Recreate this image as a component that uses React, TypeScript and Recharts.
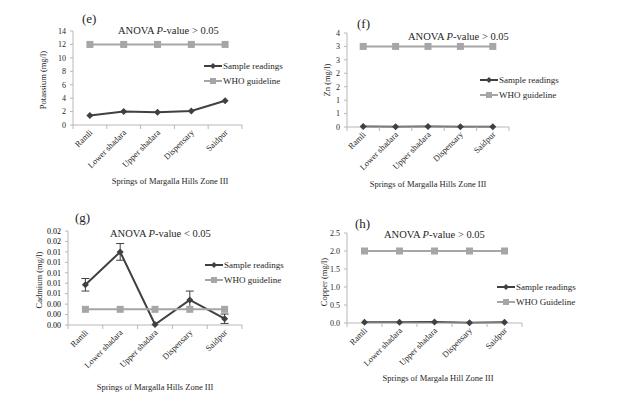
import { LineChart, Line, XAxis, YAxis, ErrorBar, Legend } from 'recharts';

const springs = ['Ramli', 'Lower shadara', 'Upper shadara', 'Dispensary', 'Saidpur'];

const potassiumSample = [1.4, 2.0, 1.9, 2.1, 3.6];
const potassiumWho = [12, 12, 12, 12, 12];
const potassiumTicks = [0, 2, 4, 6, 8, 10, 12, 14];

const zincSample = [0.02, 0.01, 0.02, 0.01, 0.01];
const zincWho = [3, 3, 3, 3, 3];
const zincTicks = [0, 0.5, 1, 1.5, 2, 2.5, 3, 3.5];

const cadmiumSample = [0.0077, 0.014, 0.0001, 0.0048, 0.0012];
const cadmiumError = [0.0012, 0.0016, 0, 0.0017, 0.0009];
const cadmiumWho = [0.003, 0.003, 0.003, 0.003, 0.003];
const cadmiumTicks = [0, 0.002, 0.004, 0.006, 0.008, 0.01, 0.012, 0.014, 0.016, 0.018];

const copperSample = [0.02, 0.02, 0.03, 0.01, 0.02];
const copperWho = [2, 2, 2, 2, 2];
const copperTicks = [0, 0.5, 1, 1.5, 2, 2.5];

const FONT = '"Liberation Serif", "Times New Roman", serif';
const TEXT = '#262626';
const DARK = '#404040';
const LIGHT = '#a6a6a6';
const AXIS = '#b8b8b8';

const PAD_L = 60;
const PAD_T = 10;
const PAD_R = 4;
const PAD_B = 60;

const Diamond = ({ cx, cy, r = 3.5 }: any) => (
  <polygon points={`${cx},${cy - r} ${cx + r},${cy} ${cx},${cy + r} ${cx - r},${cy}`} fill={DARK} />
);

const Square = ({ cx, cy, s = 7 }: any) => (
  <rect x={cx - s / 2} y={cy - s / 2} width={s} height={s} fill={LIGHT} />
);

const SpringTick = ({ x, payload, index, band, axisY, last }: any) => (
  <g>
    <line x1={x - band / 2} x2={x - band / 2} y1={axisY} y2={axisY + 4} stroke={AXIS} />
    {index === last && <line x1={x + band / 2} x2={x + band / 2} y1={axisY} y2={axisY + 4} stroke={AXIS} />}
    <text
      x={x + 1}
      y={axisY + 6}
      dy="0.35em"
      textAnchor="end"
      transform={`rotate(-45 ${x + 1} ${axisY + 6})`}
      fontSize={8.5}
      fontFamily={FONT}
      fill={TEXT}
    >
      {payload.value}
    </text>
  </g>
);

// y tick labels, right-aligned a few px left of the axis
const ValueTick = ({ x, y, payload, fmt, color }: any) => (
  <text x={x} y={y} dy="0.35em" textAnchor="end" fontSize={8} fontFamily={FONT} fill={color} stroke="none">
    {fmt(payload.value)}
  </text>
);

const LegendBox = ({ payload }: any) => (
  <div style={{ fontFamily: FONT, fontSize: 9, color: TEXT }}>
    {(payload || []).map((entry: any) => (
      <div key={entry.dataKey} style={{ display: 'flex', alignItems: 'center', height: 14.5, whiteSpace: 'nowrap' }}>
        <svg width={18} height={10} style={{ marginRight: 1 }}>
          <line x1={0} x2={18} y1={5} y2={5} stroke={entry.color} strokeWidth={2} />
          {entry.dataKey === 'sample' ? <Diamond cx={9} cy={5} r={3} /> : <Square cx={9} cy={5} s={6} />}
        </svg>
        <span>{entry.value}</span>
      </div>
    ))}
  </div>
);

const Txt = ({ x, y, size, children, center, rotate }: any) => (
  <div
    style={{
      position: 'absolute',
      left: x,
      top: y,
      fontFamily: FONT,
      fontSize: size,
      lineHeight: 1,
      color: TEXT,
      whiteSpace: 'nowrap',
      transform: `translate(${center ? '-50%' : '0'}, -50%)${rotate ? ' rotate(-90deg)' : ''}`,
    }}
  >
    {children}
  </div>
);

const Panel = ({ plot, ticks, fmt, tickColor = TEXT, sample, who, err, tag, tagPos, sign, titlePos, legendPos, whoName, yLabel, yLabelPos, xLabel, xLabelPos }: any) => {
  const [px, py, w, h] = plot;
  const band = w / springs.length;
  const data = springs.map((name, i) => ({ name, sample: sample[i], who: who[i], err: err ? err[i] : 0 }));
  const left = px - PAD_L;
  const top = py - PAD_T;
  return (
    <>
      <div style={{ position: 'absolute', left, top }}>
        <LineChart width={w + PAD_L + PAD_R} height={h + PAD_T + PAD_B} data={data} margin={{ top: PAD_T, right: PAD_R, bottom: 0, left: 0 }}>
          <XAxis
            dataKey="name"
            height={PAD_B}
            interval={0}
            padding={{ left: band / 2, right: band / 2 }}
            axisLine={{ stroke: AXIS }}
            tickLine={false}
            tick={(props: any) => <SpringTick key={props.index} {...props} band={band} axisY={PAD_T + h} last={springs.length - 1} />}
          />
          <YAxis
            width={PAD_L}
            type="number"
            domain={[ticks[0], ticks[ticks.length - 1]]}
            ticks={ticks}
            interval={0}
            axisLine={{ stroke: AXIS }}
            tickLine={{ stroke: AXIS }}
            tickSize={3}
            tickMargin={4}
            tick={(props: any) => <ValueTick key={props.index} {...props} fmt={fmt} color={tickColor} />}
          />
          <Line
            dataKey="sample"
            name="Sample readings"
            stroke={DARK}
            strokeWidth={2}
            isAnimationActive={false}
            dot={(p: any) => <Diamond key={p.index} cx={p.cx} cy={p.cy} />}
          >
            {err && <ErrorBar dataKey="err" direction="y" width={4} stroke={DARK} strokeWidth={1} />}
          </Line>
          <Line
            dataKey="who"
            name={whoName}
            stroke={LIGHT}
            strokeWidth={2}
            isAnimationActive={false}
            dot={(p: any) => <Square key={p.index} cx={p.cx} cy={p.cy} />}
          />
          <Legend
            layout="vertical"
            align="center"
            verticalAlign="middle"
            content={<LegendBox />}
            wrapperStyle={{ left: legendPos[0] - left, top: legendPos[1] - top, width: 'auto' }}
          />
        </LineChart>
      </div>
      <Txt x={tagPos[0]} y={tagPos[1]} size={13}>{tag}</Txt>
      <Txt x={titlePos[0]} y={titlePos[1]} size={10.5}>
        ANOVA <i>P</i>-value {sign} 0.05
      </Txt>
      <Txt x={yLabelPos[0]} y={yLabelPos[1]} size={8.5} center rotate>{yLabel}</Txt>
      <Txt x={xLabelPos[0]} y={xLabelPos[1]} size={8.5} center>{xLabel}</Txt>
    </>
  );
};

export default function App() {
  return (
    <div style={{ position: 'absolute', left: 0, top: 0, width: 628, height: 397, background: '#fff', overflow: 'hidden' }}>
      <Panel
        plot={[73, 31, 169, 94]}
        ticks={potassiumTicks}
        fmt={(v: number) => String(v)}
        sample={potassiumSample}
        who={potassiumWho}
        tag="(e)"
        tagPos={[82, 18]}
        sign=">"
        titlePos={[118, 31]}
        legendPos={[204, 59]}
        whoName="WHO guideline"
        yLabel="Potassium (mg/l)"
        yLabelPos={[43, 80]}
        xLabel="Springs of Margalla Hills Zone III"
        xLabelPos={[170, 181]}
      />
      <Panel
        plot={[347, 33, 162, 94]}
        ticks={zincTicks}
        fmt={(v: number) => String(Math.round(v))}
        sample={zincSample}
        who={zincWho}
        tag="(f)"
        tagPos={[357, 23]}
        sign=">"
        titlePos={[408, 37]}
        legendPos={[480, 73]}
        whoName="WHO guideline"
        yLabel="Zn (mg/l)"
        yLabelPos={[327, 80]}
        xLabel="Springs of Margalla Hills Zone III"
        xLabelPos={[428, 184]}
      />
      <Panel
        plot={[68, 231, 174, 94]}
        ticks={cadmiumTicks}
        fmt={(v: number) => v.toFixed(2)}
        tickColor="#000000"
        sample={cadmiumSample}
        who={cadmiumWho}
        err={cadmiumError}
        tag="(g)"
        tagPos={[75, 217]}
        sign="<"
        titlePos={[110, 234]}
        legendPos={[205, 258]}
        whoName="WHO guideline"
        yLabel="Cadmium (mg/l)"
        yLabelPos={[39, 280]}
        xLabel="Springs of Margalla Hills Zone III"
        xLabelPos={[155, 387]}
      />
      <Panel
        plot={[347, 233, 175, 90]}
        ticks={copperTicks}
        fmt={(v: number) => v.toFixed(1)}
        sample={copperSample}
        who={copperWho}
        tag="(h)"
        tagPos={[355, 223]}
        sign=">"
        titlePos={[384, 235]}
        legendPos={[497, 280]}
        whoName="WHO Guideline"
        yLabel="Copper (mg/l)"
        yLabelPos={[324, 282]}
        xLabel="Springs of Margala Hill Zone III"
        xLabelPos={[438, 378]}
      />
    </div>
  );
}
